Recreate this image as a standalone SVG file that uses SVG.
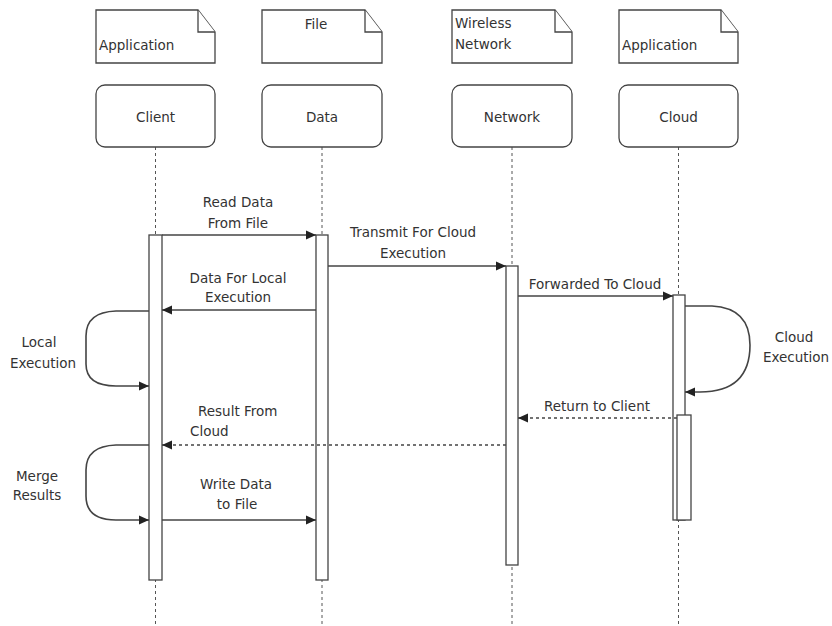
<svg xmlns="http://www.w3.org/2000/svg" width="832" height="626" viewBox="0 0 832 626">
<style>
text{font-family:"DejaVu Sans","Liberation Sans",sans-serif;font-size:13.5px;fill:#333}
.c{text-anchor:middle}
.note,.box,.act{fill:#fff;stroke:#444;stroke-width:1.3}
.life{stroke:#555;stroke-width:1;stroke-dasharray:3,3;fill:none}
.msg{stroke:#444;stroke-width:1.6;fill:none}
.ret{stroke:#444;stroke-width:1.4;fill:none;stroke-dasharray:3,3}
</style>
<defs>
<marker id="ah" markerWidth="10" markerHeight="10" refX="10" refY="5" orient="auto" markerUnits="userSpaceOnUse">
<path d="M0,0.5 L10,5 L0,9.5 Z" fill="#222"/>
</marker>
</defs>
<rect width="832" height="626" fill="#fff"/>
<g id="lifelines">
<line class="life" x1="155.5" y1="147" x2="155.5" y2="626"/>
<line class="life" x1="322" y1="147" x2="322" y2="626"/>
<line class="life" x1="512" y1="147" x2="512" y2="626"/>
<line class="life" x1="678.5" y1="147" x2="678.5" y2="626"/>
</g>
<g id="note-client">
<path class="note" d="M96,10 L198,10 L215,32 L215,63 L96,63 Z"/>
<path class="note" d="M198,10 L198,32 L215,32" fill="none"/>
<text x="99" y="50">Application</text>
</g>
<g id="note-data">
<path class="note" d="M262,10 L365,10 L382,32 L382,63 L262,63 Z"/>
<path class="note" d="M365,10 L365,32 L382,32" fill="none"/>
<text x="316" y="29" class="c">File</text>
</g>
<g id="note-network">
<path class="note" d="M452,10 L555,10 L572,32 L572,63 L452,63 Z"/>
<path class="note" d="M555,10 L555,32 L572,32" fill="none"/>
<text x="455" y="28">Wireless</text>
<text x="455" y="49">Network</text>
</g>
<g id="note-cloud">
<path class="note" d="M619,10 L721,10 L738,32 L738,63 L619,63 Z"/>
<path class="note" d="M721,10 L721,32 L738,32" fill="none"/>
<text x="622" y="50">Application</text>
</g>
<g id="client">
<rect class="box" x="96" y="85" width="119" height="62" rx="9"/>
<text x="155.5" y="122" class="c">Client</text>
</g>
<g id="data">
<rect class="box" x="262" y="85" width="120" height="62" rx="9"/>
<text x="322" y="122" class="c">Data</text>
</g>
<g id="network">
<rect class="box" x="452" y="85" width="120" height="62" rx="9"/>
<text x="512" y="122" class="c">Network</text>
</g>
<g id="cloud">
<rect class="box" x="619" y="85" width="119" height="62" rx="9"/>
<text x="678.5" y="122" class="c">Cloud</text>
</g>
<g id="activations">
<rect class="act" x="149" y="235" width="13" height="345"/>
<rect class="act" x="316" y="235" width="12" height="345"/>
<rect class="act" x="506" y="266" width="12" height="299"/>
<rect class="act" x="673" y="295" width="12" height="225"/>
<rect class="act" x="677" y="415" width="14" height="105"/>
</g>
<g id="connectors">
<line class="msg" x1="162" y1="235" x2="316" y2="235" marker-end="url(#ah)"/>
<line class="msg" x1="328" y1="266" x2="506" y2="266" marker-end="url(#ah)"/>
<line class="msg" x1="316" y1="310" x2="162" y2="310" marker-end="url(#ah)"/>
<line class="msg" x1="518" y1="296" x2="673" y2="296" marker-end="url(#ah)"/>
<path class="msg" d="M685,306 L712,306 Q750,308 750,345 Q750,392 700,392 L685,392" marker-end="url(#ah)"/>
<line class="ret" x1="677" y1="418" x2="518" y2="418" marker-end="url(#ah)"/>
<line class="ret" x1="506" y1="445" x2="162" y2="445" marker-end="url(#ah)"/>
<path class="msg" d="M149,311 L116,311 Q86,312 86,336 L86,364 Q86,386 116,386 L149,386" marker-end="url(#ah)"/>
<path class="msg" d="M149,445 L116,445 Q86,446 86,470 L86,496 Q86,520 116,520 L149,520" marker-end="url(#ah)"/>
<line class="msg" x1="162" y1="520" x2="316" y2="520" marker-end="url(#ah)"/>
</g>
<g id="labels">
<text x="238" y="207" class="c">Read Data</text>
<text x="238" y="228" class="c">From File</text>
<text x="413" y="237" class="c">Transmit For Cloud</text>
<text x="413" y="258" class="c">Execution</text>
<text x="238" y="283" class="c">Data For Local</text>
<text x="238" y="302" class="c">Execution</text>
<text x="595" y="289" class="c">Forwarded To Cloud</text>
<text x="794" y="342" class="c">Cloud</text>
<text x="796" y="362" class="c">Execution</text>
<text x="597" y="411" class="c">Return to Client</text>
<text x="198" y="416">Result From</text>
<text x="190" y="436">Cloud</text>
<text x="39" y="347" class="c">Local</text>
<text x="43" y="368" class="c">Execution</text>
<text x="37" y="481" class="c">Merge</text>
<text x="37" y="500" class="c">Results</text>
<text x="236" y="489" class="c">Write Data</text>
<text x="237" y="509" class="c">to File</text>
</g>
</svg>
